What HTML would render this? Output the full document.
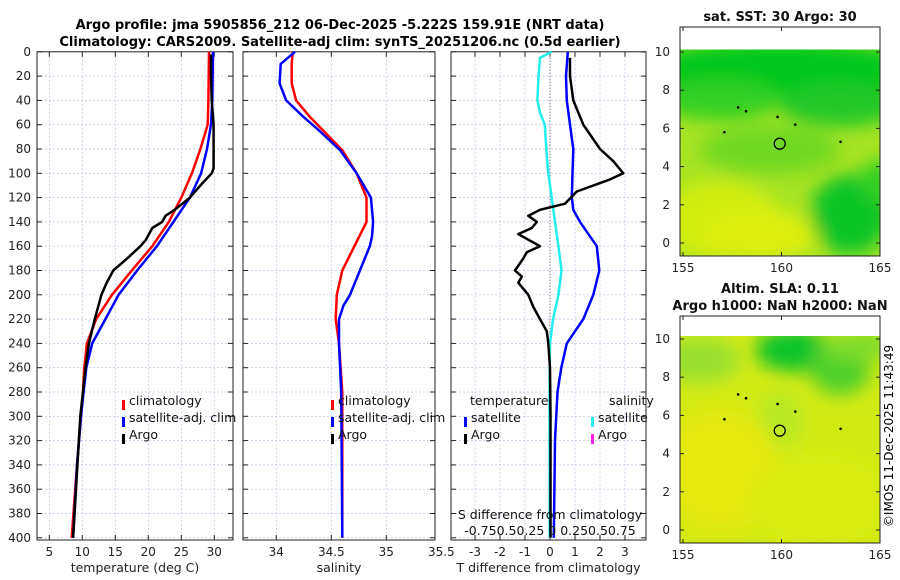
<!DOCTYPE html>
<html><head><meta charset="utf-8">
<style>
html,body{margin:0;padding:0;background:#fff;}
svg{display:block;font-family:"DejaVu Sans","Liberation Sans",sans-serif;}
</style></head>
<body>
<svg id="fig" width="900" height="580" viewBox="0 0 900 580" xmlns="http://www.w3.org/2000/svg">
<defs>
<filter id="blur1" x="-20%" y="-20%" width="140%" height="140%"><feGaussianBlur stdDeviation="9"/></filter>
<clipPath id="clipTop"><rect x="680" y="49.5" width="200" height="206.5"/></clipPath>
<clipPath id="clipBot"><rect x="680" y="336" width="200" height="207"/></clipPath>
</defs>
<text x="340" y="29" text-anchor="middle" font-size="13" font-weight="bold">Argo profile: jma 5905856_212 06-Dec-2025 -5.222S 159.91E (NRT data)</text>
<text x="340" y="46" text-anchor="middle" font-size="13" font-weight="bold">Climatology: CARS2009. Satellite-adj clim: synTS_20251206.nc (0.5d earlier)</text>
<g id="panels"></g>
<g id="maps"></g>
<text transform="translate(893,436) rotate(-90)" text-anchor="middle" font-size="12">©IMOS 11-Dec-2025 11:43:49</text>
</svg>
<script>
// ---- data ----
const tDepths = [0,40,60,80,100,120,140,160,180,200,220,240,260,280,300,340,400];
const tempClim = [29.2,29.1,29.0,27.9,26.6,25,23.1,20.6,17.5,14.5,12.1,10.7,10.3,10.1,9.8,9.2,8.4];
const tempSat  = [29.8,29.7,29.5,28.9,28,26.3,23.8,21.3,18.3,15.5,13.5,11.5,10.6,10.2,9.8,9.2,8.6];
const argoDepths = [2,20,40,60,80,96,100,110,120,130,135,140,145,155,160,170,180,190,200,210,220,240,260,300,400];
const tempArgo = [29.5,29.5,29.6,29.9,29.9,29.9,29.6,27.9,26.3,24,22.6,22.1,20.6,19.6,18.8,16.8,14.7,13.7,12.9,12.4,11.9,11,10.5,9.7,8.6];
const sClimDepths = [0,10,26,40,53,81,100,120,140,160,180,200,220,240,280,400];
const salClim = [34.15,34.14,34.14,34.18,34.3,34.6,34.73,34.82,34.82,34.71,34.6,34.55,34.54,34.57,34.6,34.6];
const sSatDepths = [0,10,26,40,53,64,81,100,120,140,152,160,180,200,209,220,240,280,400];
const salSat  = [34.17,34.04,34.03,34.09,34.24,34.38,34.58,34.73,34.86,34.88,34.87,34.85,34.76,34.67,34.61,34.57,34.57,34.59,34.6];
const tdDepths = [0,20,40,60,80,100,120,130,140,160,180,200,220,240,260,280,320,400];
const tdSat = [0.71,0.64,0.67,0.8,0.93,0.9,0.87,0.93,1.2,1.87,1.97,1.73,1.33,0.67,0.45,0.3,0.2,0.15];
const tdArgoDepths = [5,20,40,60,80,90,100,105,115,125,130,135,140,145,150,160,165,170,180,185,190,200,210,220,230,240,260,300,400];
const tdArgo = [0.8,0.8,0.93,1.33,2.0,2.53,2.93,2.4,1.07,0.6,-0.4,-0.87,-0.53,-0.73,-1.27,-0.4,-0.93,-1.07,-1.4,-1.13,-1.27,-0.87,-0.67,-0.4,-0.13,-0.07,0,0.02,0.02];
const sdDepths = [0,5,20,40,50,60,80,100,120,140,160,180,200,220,240,280,400];
const sdSat = [0.016,-0.095,-0.11,-0.12,-0.095,-0.05,-0.035,-0.016,0.016,0.048,0.08,0.11,0.08,0.03,0,-0.005,-0.003];
const depthTicks = [0,20,40,60,80,100,120,140,160,180,200,220,240,260,280,300,320,340,360,380,400];
const tempTicks = [5,10,15,20,25,30];
const salTicks = [34,34.5,35,35.5];
const tdTicks = [-3,-2,-1,0,1,2,3];
const lonTicks = [155,160,165];
const latTicks = [0,2,4,6,8,10];

const NS="http://www.w3.org/2000/svg";
function mk(tag, attrs, parent){const e=document.createElementNS(NS,tag);for(const k in attrs)e.setAttribute(k,attrs[k]);parent.appendChild(e);return e;}
const panels=document.getElementById('panels');
const Y0=51.8, PY=1.215;
const yD = d => Y0 + d*PY;

function panel(name, x0, x1, xs, xticks, xlabel){
  const g=mk('g',{},panels);
  
  
  depthTicks.forEach(d=>{mk('line',{x1:x0,x2:x1,y1:yD(d),y2:yD(d),stroke:'#b8c4e8','stroke-width':0.7,'stroke-dasharray':'2,2'},g);
    mk('line',{x1:x0,x2:x0+5,y1:yD(d),y2:yD(d),stroke:'#222'},g);mk('line',{x1:x1-5,x2:x1,y1:yD(d),y2:yD(d),stroke:'#222'},g);});
  xticks.forEach(v=>{const x=xs(v);if(x>x0+1&&x<x1-1){mk('line',{x1:x,x2:x,y1:Y0,y2:540,stroke:'#b8c4e8','stroke-width':0.7,'stroke-dasharray':'2,2'},g);
    mk('line',{x1:x,x2:x,y1:540,y2:535,stroke:'#222'},g);mk('line',{x1:x,x2:x,y1:Y0,y2:Y0+5,stroke:'#222'},g);}
    const t=mk('text',{x:x,y:556,'text-anchor':'middle','font-size':12,fill:'#222'},g);t.textContent=v;
    
    
  });
  mk('rect',{x:x0,y:Y0,width:x1-x0,height:540-Y0,fill:'none',stroke:'#222','stroke-width':1},g);
  const xl=mk('text',{x:(x0+x1)/2,y:572,'text-anchor':'middle','font-size':12.5,fill:'#222'},g);xl.textContent=xlabel;
  
  
  return g;
}
function line(g, xs, vals, ds, color, w, name){
  const pts=vals.map((v,i)=>xs(v).toFixed(1)+','+yD(ds[i]).toFixed(1)).join(' ');
  const p=mk('polyline',{points:pts,fill:'none',stroke:color,'stroke-width':w,'stroke-linejoin':'round'},g);
  
  
}
function txt(g,x,y,s,size,name,anchor){const t=mk('text',{x:x,y:y,'font-size':size||12.5,fill:'#111','text-anchor':anchor||'start'},g);t.textContent=s;
  
  
  return t;}
function mark(g,x,y,color){mk('rect',{x:x,y:y-10,width:3,height:10,fill:color},g);}

depthTicks.forEach(d=>{const t=mk('text',{x:31,y:yD(d)+4,'text-anchor':'end','font-size':12,fill:'#222'},panels);t.textContent=d;
  
  });

// panel 1 temperature
const xT = v => 49.3 + (v-5)*6.6;
const g1=panel('temperature-panel',37,233,xT,tempTicks,'temperature (deg C)');
line(g1,xT,tempClim,tDepths,'#f00',2.5,'climatology-temp-line');
line(g1,xT,tempSat,tDepths,'#00f',2.5,'satellite-temp-line');
line(g1,xT,tempArgo,argoDepths,'#000',2.5,'argo-temp-line');
mark(g1,122,410,'#f00');txt(g1,129,405,'climatology',12.5,'legend-climatology');
mark(g1,122,427,'#00f');txt(g1,129,422,'satellite-adj. clim',12.5,'legend-satellite');
mark(g1,122,444,'#000');txt(g1,129,439,'Argo',12.5,'legend-argo');

// panel 2 salinity
const xS = v => 276.3 + (v-34)*110;
const g2=panel('salinity-panel',243,435,xS,salTicks,'salinity');
line(g2,xS,salClim,sClimDepths,'#f00',2.5,'climatology-sal-line');
line(g2,xS,salSat,sSatDepths,'#00f',2.5,'satellite-sal-line');
mark(g2,331,410,'#f00');txt(g2,338,405,'climatology',12.5,'legend-climatology');
mark(g2,331,427,'#00f');txt(g2,338,422,'satellite-adj. clim',12.5,'legend-satellite');
mark(g2,331,444,'#000');txt(g2,338,439,'Argo',12.5,'legend-argo');

// panel 3 differences
const xD = v => 550 + v*25;
const xSD = v => 550 + v*105;
const g3=panel('difference-panel',451,646,xD,tdTicks,'T difference from climatology');
mk('line',{x1:550,x2:550,y1:Y0,y2:540,stroke:'#555','stroke-width':1,'stroke-dasharray':'1,2'},g3);
line(g3,xSD,sdSat,sdDepths,'#22eeee',2.5,'salinity-diff-satellite-line');
line(g3,xD,tdSat,tdDepths,'#00f',2.5,'temp-diff-satellite-line');
line(g3,xD,tdArgo,tdArgoDepths,'#000',2.5,'temp-diff-argo-line');
txt(g3,470,405,'temperature',12.5,'legend-temperature-header');
mark(g3,464,427,'#00f');txt(g3,471,422,'satellite',12.5,'legend-temp-satellite');
mark(g3,464,444,'#000');txt(g3,471,439,'Argo',12.5,'legend-temp-argo');
txt(g3,609,405,'salinity',12.5,'legend-salinity-header');
mark(g3,591,427,'#22eeee');txt(g3,598,422,'satellite',12.5,'legend-sal-satellite');
mark(g3,591,444,'#ff22ee');txt(g3,598,439,'Argo',12.5,'legend-sal-argo');
txt(g3,550,519,'S difference from climatology',12.5,'s-axis-title','middle');
txt(g3,550,535,'-0.750.50.25 0  0.250.50.75',12.5,'s-axis-ticks','middle');

// maps
const maps=document.getElementById('maps');
const xLon = v => 683 + (v-155)*19.7;
function mapAxes(name, top, dataTop, bottom, y10, y0, blobs, base){
  const g=mk('g',{},maps);
  
  
  const yLat = v => y0 + (y10-y0)*v/10;
  const clip = name==='sst-map'?'url(#clipTop)':'url(#clipBot)';
  const cg=mk('g',{'clip-path':clip},g);
  mk('rect',{x:680,y:dataTop,width:200,height:bottom-dataTop,fill:base},cg);
  const bg=mk('g',{filter:'url(#blur1)'},cg);
  blobs.forEach(b=>mk('ellipse',{cx:b[0],cy:b[1],rx:b[2],ry:b[3],fill:b[4]},bg));
  latTicks.forEach(v=>{const y=yLat(v);mk('line',{x1:680,x2:684,y1:y,y2:y,stroke:'#222'},g);mk('line',{x1:876,x2:880,y1:y,y2:y,stroke:'#222'},g);
    const t=mk('text',{x:670,y:y+4,'text-anchor':'end','font-size':12,fill:'#222'},g);t.textContent=v;
    
    });
  lonTicks.forEach(v=>{const x=xLon(v);mk('line',{x1:x,x2:x,y1:bottom,y2:bottom-4,stroke:'#222'},g);mk('line',{x1:x,x2:x,y1:top,y2:top+4,stroke:'#222'},g);
    const t=mk('text',{x:x,y:bottom+16,'text-anchor':'middle','font-size':12,fill:'#222'},g);t.textContent=v;
    
    });
  mk('rect',{x:680,y:top,width:200,height:bottom-top,fill:'none',stroke:'#222'},g);
  const c=mk('circle',{cx:xLon(159.91),cy:yLat(5.2),r:5.5,fill:'none',stroke:'#000','stroke-width':1.3},g);
  
  
  [[158.2,6.9],[159.8,6.6],[160.7,6.2],[163,5.3],[157.1,5.8],[157.8,7.1]].forEach(p=>mk('circle',{cx:xLon(p[0]),cy:yLat(p[1]),r:1.3,fill:'#000'},g));
  return g;
}
mapAxes('sst-map',27,49.5,256,52,243,[
  [780,70,140,30,'#00c81e'],[720,100,60,20,'#30d020'],[840,105,60,22,'#20c828'],
  [770,150,70,25,'#70d824'],[720,220,60,40,'#d0ec10'],[760,235,60,25,'#dcee10'],
  [850,215,40,40,'#10c428'],[880,180,20,20,'#30d020']
],'#a8e424');
mapAxes('sla-map',316,336,543,339,530,[
  [795,350,40,22,'#08c42a'],[700,360,40,22,'#98e030'],[840,370,30,25,'#50d02a'],
  [860,345,40,15,'#80dc2c'],[780,420,22,30,'#b8e820'],[720,470,60,60,'#e4e810'],[820,500,70,45,'#d8ec10']
],'#d2ea14');
const t1=txt(maps,780,21,'sat. SST: 30 Argo: 30',13,'sst-map-title','middle');t1.setAttribute('font-weight','bold');
const t2=txt(maps,780,293,'Altim. SLA: 0.11',13,'sla-map-title','middle');t2.setAttribute('font-weight','bold');
const t3=txt(maps,780,310,'Argo h1000: NaN h2000: NaN',13,'sla-map-subtitle','middle');t3.setAttribute('font-weight','bold');
</script>
</body></html>
